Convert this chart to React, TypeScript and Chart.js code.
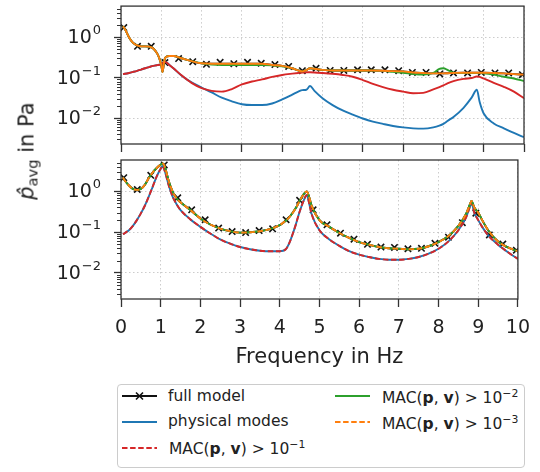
import React, { useEffect, useRef } from "react";
import { Chart, registerables } from "chart.js";

Chart.register(...registerables);

const FONT = "'DejaVu Sans', sans-serif";

// ---------- data: upper panel ----------
const freqTop = [0.05, 0.1, 0.2, 0.3, 0.4, 0.5, 0.6, 0.7, 0.8, 0.9, 0.95, 1.0, 1.03, 1.07, 1.1, 1.2, 1.3, 1.5, 1.75, 2.0, 2.25, 2.5, 2.75, 3.0, 3.25, 3.5, 3.75, 4.0, 4.25, 4.4, 4.5, 4.6, 4.69, 4.8, 5.0, 5.25, 5.5, 5.75, 6.0, 6.25, 6.5, 6.75, 7.0, 7.25, 7.5, 7.75, 7.9, 8.0, 8.1, 8.25, 8.5, 8.7, 8.83, 8.9, 9.0, 9.25, 9.5, 9.75, 10.0];
const fullTop = [1.85, 1.56, 0.98, 0.72, 0.62, 0.59, 0.59, 0.58, 0.52, 0.39, 0.30, 0.205, 0.137, 0.246, 0.31, 0.34, 0.34, 0.30, 0.255, 0.225, 0.22, 0.22, 0.22, 0.22, 0.22, 0.22, 0.205, 0.194, 0.17, 0.15, 0.142, 0.153, 0.17, 0.165, 0.155, 0.15, 0.15, 0.15, 0.15, 0.15, 0.148, 0.144, 0.142, 0.134, 0.13, 0.127, 0.127, 0.127, 0.128, 0.13, 0.132, 0.132, 0.132, 0.132, 0.132, 0.13, 0.127, 0.122, 0.118];
const physTop = [0.122, 0.124, 0.13, 0.138, 0.147, 0.158, 0.17, 0.182, 0.194, 0.203, 0.207, 0.212, 0.225, 0.246, 0.245, 0.205, 0.17, 0.113, 0.076, 0.057, 0.043, 0.032, 0.026, 0.022, 0.021, 0.021, 0.023, 0.029, 0.038, 0.045, 0.049, 0.05, 0.062, 0.047, 0.031, 0.021, 0.0155, 0.0122, 0.0098, 0.0082, 0.0072, 0.0064, 0.0059, 0.0056, 0.0055, 0.0059, 0.0065, 0.0072, 0.0085, 0.0107, 0.018, 0.032, 0.05, 0.025, 0.013, 0.0074, 0.0056, 0.0043, 0.0034];
const mac1Top = [0.122, 0.124, 0.13, 0.138, 0.147, 0.158, 0.17, 0.182, 0.194, 0.203, 0.207, 0.212, 0.225, 0.246, 0.245, 0.205, 0.17, 0.114, 0.074, 0.055, 0.047, 0.045, 0.052, 0.068, 0.08, 0.09, 0.104, 0.116, 0.125, 0.13, 0.133, 0.135, 0.135, 0.134, 0.13, 0.124, 0.116, 0.105, 0.087, 0.07, 0.058, 0.05, 0.045, 0.041, 0.042, 0.051, 0.058, 0.064, 0.072, 0.082, 0.093, 0.098, 0.106, 0.104, 0.095, 0.074, 0.059, 0.045, 0.031];
const mac2Top = [1.85, 1.56, 0.98, 0.72, 0.62, 0.59, 0.59, 0.58, 0.52, 0.39, 0.30, 0.205, 0.137, 0.246, 0.31, 0.34, 0.34, 0.30, 0.255, 0.225, 0.21, 0.205, 0.205, 0.205, 0.205, 0.205, 0.2, 0.19, 0.17, 0.15, 0.142, 0.153, 0.17, 0.165, 0.155, 0.15, 0.15, 0.15, 0.15, 0.15, 0.146, 0.138, 0.132, 0.122, 0.118, 0.13, 0.165, 0.17, 0.155, 0.132, 0.13, 0.13, 0.13, 0.13, 0.128, 0.118, 0.105, 0.095, 0.082];
const mac3Top = [1.85, 1.56, 0.98, 0.72, 0.62, 0.59, 0.59, 0.58, 0.52, 0.39, 0.30, 0.205, 0.137, 0.246, 0.31, 0.34, 0.34, 0.30, 0.255, 0.225, 0.22, 0.22, 0.22, 0.22, 0.22, 0.22, 0.205, 0.194, 0.17, 0.15, 0.142, 0.153, 0.17, 0.165, 0.155, 0.15, 0.15, 0.15, 0.15, 0.15, 0.148, 0.144, 0.142, 0.134, 0.13, 0.127, 0.127, 0.127, 0.128, 0.13, 0.132, 0.132, 0.132, 0.132, 0.132, 0.13, 0.127, 0.122, 0.118];
const markFreq = [0.07, 0.41, 0.75, 1.09, 1.43, 1.78, 2.12, 2.46, 2.80, 3.14, 3.48, 3.82, 4.16, 4.50, 4.84, 5.19, 5.53, 5.87, 6.21, 6.55, 6.89, 7.23, 7.57, 7.91, 8.25, 8.60, 8.94, 9.28, 9.62, 9.96];
const markTop = [1.71, 0.59, 0.59, 0.235, 0.295, 0.247, 0.213, 0.238, 0.22, 0.238, 0.225, 0.21, 0.188, 0.148, 0.17, 0.15, 0.15, 0.156, 0.156, 0.156, 0.148, 0.134, 0.134, 0.123, 0.13, 0.13, 0.134, 0.13, 0.13, 0.118];

// ---------- data: lower panel ----------
const freqBot = [0.05, 0.1, 0.2, 0.3, 0.4, 0.5, 0.6, 0.7, 0.8, 0.9, 1.0, 1.05, 1.1, 1.2, 1.3, 1.4, 1.5, 1.75, 2.0, 2.25, 2.5, 2.75, 3.0, 3.25, 3.5, 3.75, 4.0, 4.15, 4.25, 4.4, 4.5, 4.6, 4.68, 4.75, 4.8, 5.0, 5.25, 5.5, 5.75, 6.0, 6.25, 6.5, 6.75, 7.0, 7.25, 7.5, 7.75, 8.0, 8.25, 8.5, 8.7, 8.8, 8.83, 8.9, 9.0, 9.1, 9.25, 9.5, 9.75, 10.0];
const fullBot = [2.15, 1.8, 1.38, 1.14, 1.08, 1.14, 1.43, 2.09, 2.9, 3.7, 4.47, 4.75, 4.06, 1.8, 0.98, 0.67, 0.535, 0.345, 0.215, 0.153, 0.122, 0.105, 0.097, 0.099, 0.105, 0.118, 0.148, 0.19, 0.237, 0.38, 0.58, 0.84, 0.98, 0.67, 0.45, 0.196, 0.134, 0.095, 0.072, 0.057, 0.049, 0.043, 0.04, 0.039, 0.038, 0.039, 0.045, 0.057, 0.08, 0.142, 0.286, 0.5, 0.58, 0.4, 0.3, 0.196, 0.111, 0.059, 0.042, 0.034];
const physBot = [0.088, 0.095, 0.111, 0.142, 0.196, 0.286, 0.44, 0.74, 1.3, 2.3, 3.56, 4.1, 3.17, 1.43, 0.74, 0.48, 0.345, 0.204, 0.134, 0.092, 0.066, 0.052, 0.043, 0.038, 0.035, 0.034, 0.034, 0.038, 0.057, 0.148, 0.315, 0.58, 0.81, 0.46, 0.28, 0.111, 0.066, 0.046, 0.034, 0.028, 0.0245, 0.022, 0.021, 0.021, 0.022, 0.0245, 0.0295, 0.039, 0.059, 0.111, 0.237, 0.44, 0.52, 0.3, 0.196, 0.134, 0.083, 0.049, 0.032, 0.022];
const mac1Bot = [0.088, 0.095, 0.111, 0.142, 0.196, 0.286, 0.44, 0.74, 1.3, 2.3, 3.56, 4.1, 3.17, 1.43, 0.74, 0.48, 0.345, 0.204, 0.134, 0.092, 0.066, 0.052, 0.043, 0.038, 0.035, 0.034, 0.034, 0.038, 0.057, 0.148, 0.315, 0.58, 0.81, 0.46, 0.28, 0.111, 0.066, 0.046, 0.034, 0.028, 0.0245, 0.022, 0.021, 0.021, 0.022, 0.0245, 0.0295, 0.039, 0.059, 0.111, 0.237, 0.44, 0.52, 0.3, 0.196, 0.134, 0.083, 0.049, 0.032, 0.022];
const mac2Bot = [2.15, 1.8, 1.38, 1.14, 1.08, 1.14, 1.43, 2.09, 2.9, 3.7, 4.47, 4.75, 4.06, 1.8, 0.98, 0.67, 0.535, 0.345, 0.215, 0.153, 0.122, 0.105, 0.097, 0.099, 0.105, 0.118, 0.148, 0.19, 0.237, 0.38, 0.58, 0.84, 0.98, 0.67, 0.45, 0.196, 0.134, 0.095, 0.072, 0.057, 0.049, 0.043, 0.04, 0.039, 0.038, 0.039, 0.045, 0.057, 0.08, 0.142, 0.286, 0.5, 0.58, 0.4, 0.3, 0.196, 0.111, 0.059, 0.042, 0.034];
const mac3Bot = [2.15, 1.8, 1.38, 1.14, 1.08, 1.14, 1.43, 2.09, 2.9, 3.7, 4.47, 4.75, 4.06, 1.8, 0.98, 0.67, 0.535, 0.345, 0.215, 0.153, 0.122, 0.105, 0.097, 0.099, 0.105, 0.118, 0.148, 0.19, 0.237, 0.38, 0.58, 0.84, 0.98, 0.67, 0.45, 0.196, 0.134, 0.095, 0.072, 0.057, 0.049, 0.043, 0.04, 0.039, 0.038, 0.039, 0.045, 0.057, 0.08, 0.142, 0.286, 0.5, 0.58, 0.4, 0.3, 0.196, 0.111, 0.059, 0.042, 0.034];
const markBot = [2.14, 1.1, 2.44, 4.4, 0.69, 0.35, 0.2, 0.125, 0.103, 0.097, 0.109, 0.12, 0.2, 0.6, 0.35, 0.15, 0.094, 0.067, 0.05, 0.043, 0.042, 0.039, 0.04, 0.053, 0.075, 0.17, 0.29, 0.085, 0.051, 0.036];

// ---------- axes / labels ----------
const xMin = 0;
const xMax = 10;
const yMin = 0.0023;
const yMax = 5.8;
const yTickValues = [1, 0.1, 0.01];
const yTickExps = ["0", "\u22121", "\u22122"];
const xTitle = "Frequency in Hz";
const seriesNames = ["full model", "physical modes", "MAC", "MAC", "MAC"];
const macExps = ["\u22121", "\u22122", "\u22123"];

const C_BLUE = "#1f77b4";
const C_ORANGE = "#ff7f0e";
const C_GREEN = "#2ca02c";
const C_RED = "#d62728";
const C_BLACK = "#111111";
const AX = "#333333";

const pts = (xs: number[], ys: number[]) => xs.map((x, i) => ({ x, y: ys[i] }));

const lineDs = (xs: number[], ys: number[], color: string, dash: number[] = []) => ({
  data: pts(xs, ys),
  borderColor: color,
  backgroundColor: color,
  borderWidth: 1.9,
  borderDash: dash,
  pointRadius: 0,
  fill: false,
  cubicInterpolationMode: "monotone" as const,
});

const markDs = (xs: number[], ys: number[]) => ({
  data: pts(xs, ys),
  showLine: false,
  pointStyle: "crossRot" as const,
  pointRadius: 4.5,
  pointBorderWidth: 1.6,
  pointBorderColor: C_BLACK,
  borderColor: C_BLACK,
  backgroundColor: C_BLACK,
});

const framePlugin = {
  id: "frame",
  afterDraw(chart: any) {
    const { ctx, chartArea: a } = chart;
    const ys = chart.scales.y;
    ctx.save();
    // minor log ticks
    ctx.strokeStyle = AX;
    ctx.lineWidth = 1;
    for (let e = -3; e <= 0; e++) {
      for (let m = 2; m <= 9; m++) {
        const v = m * Math.pow(10, e);
        if (v < ys.min || v > ys.max) continue;
        const py = Math.round(ys.getPixelForValue(v)) + 0.5;
        ctx.beginPath();
        ctx.moveTo(a.left - 4, py);
        ctx.lineTo(a.left, py);
        ctx.stroke();
      }
    }
    // major tick labels 10^n
    ctx.fillStyle = "#222";
    ctx.textBaseline = "alphabetic";
    ctx.textAlign = "left";
    const xEnd = a.left - 21;
    yTickValues.forEach((v, i) => {
      const py = ys.getPixelForValue(v);
      ctx.font = `13px ${FONT}`;
      const ws = ctx.measureText(yTickExps[i]).width;
      ctx.font = `19px ${FONT}`;
      const wb = ctx.measureText("10").width;
      const x0 = xEnd - ws - wb;
      ctx.fillText("10", x0, py + 6);
      ctx.font = `13px ${FONT}`;
      ctx.fillText(yTickExps[i], x0 + wb + 1, py - 3);
    });
    // frame
    ctx.strokeStyle = AX;
    ctx.lineWidth = 1.3;
    ctx.strokeRect(a.left, a.top, a.right - a.left, a.bottom - a.top);
    ctx.restore();
  },
};

function makeOptions(showX: boolean, xHeight: number, padTop: number) {
  return {
    responsive: false,
    maintainAspectRatio: false,
    animation: false as const,
    events: [] as any[],
    layout: { padding: { left: 0, right: 16, top: padTop, bottom: 0 } },
    plugins: { legend: { display: false }, tooltip: { enabled: false } },
    scales: {
      x: {
        type: "linear" as const,
        min: xMin,
        max: xMax,
        afterFit: (s: any) => {
          s.height = xHeight;
        },
        ticks: {
          stepSize: 1,
          display: showX,
          autoSkip: false,
          maxRotation: 0,
          padding: 10,
          color: "#222",
          font: { family: FONT, size: 19 },
        },
        grid: {
          color: "rgba(170,170,170,0.75)",
          lineWidth: 0.8,
          tickColor: AX,
          tickLength: 8,
          tickWidth: 1.3,
        },
        border: { display: false, dash: [1.5, 2.5] },
        title: {
          display: showX,
          text: xTitle,
          color: "#222",
          font: { family: FONT, size: 21 },
          padding: { top: 0, bottom: 2 },
        },
      },
      y: {
        type: "logarithmic" as const,
        min: yMin,
        max: yMax,
        afterFit: (s: any) => {
          s.width = 121;
        },
        afterBuildTicks: (s: any) => {
          s.ticks = yTickValues.map((v) => ({ value: v, major: true }));
        },
        ticks: { display: false },
        grid: {
          color: "rgba(170,170,170,0.75)",
          lineWidth: 0.8,
          tickColor: AX,
          tickLength: 7,
          tickWidth: 1.3,
        },
        border: { display: false, dash: [1.5, 2.5] },
      },
    },
  };
}

function Panel(props: { datasets: any[]; showX: boolean; height: number; xHeight: number; padTop: number; top: number }) {
  const ref = useRef<HTMLCanvasElement | null>(null);
  useEffect(() => {
    if (!ref.current) return;
    const chart = new Chart(ref.current, {
      type: "line",
      data: { datasets: props.datasets },
      options: makeOptions(props.showX, props.xHeight, props.padTop) as any,
      plugins: [framePlugin],
    });
    return () => chart.destroy();
  }, []);
  return (
    <canvas
      ref={ref}
      width={540}
      height={props.height}
      style={{ position: "absolute", left: 0, top: props.top, width: 540, height: props.height, display: "block" }}
    />
  );
}

function Sample(props: { x: number; y: number; color: string; dash?: string; marker?: boolean }) {
  return (
    <svg width={35} height={12} style={{ position: "absolute", left: props.x, top: props.y - 6 }}>
      <line x1={0} y1={6} x2={35} y2={6} stroke={props.color} strokeWidth={1.9} strokeDasharray={props.dash} />
      {props.marker ? <path d="M14 2.5 L21 9.5 M21 2.5 L14 9.5" stroke={C_BLACK} strokeWidth={1.6} fill="none" /> : null}
    </svg>
  );
}

function MacText(props: { exp: string }) {
  return (
    <span>
      {seriesNames[2]}(<b>p</b>, <b>v</b>) &gt; 10
      <span style={{ fontSize: "0.7em", position: "relative", top: "-0.55em" }}>{props.exp}</span>
    </span>
  );
}

function Label(props: { x: number; y: number; children: any }) {
  return (
    <div
      style={{
        position: "absolute",
        left: props.x,
        top: props.y,
        transform: "translateY(-50%)",
        whiteSpace: "nowrap",
        lineHeight: 1,
        fontSize: 15.5,
        color: "#222",
      }}
    >
      {props.children}
    </div>
  );
}

export default function App() {
  const topSets = [
    lineDs(freqTop, mac3Top, C_ORANGE),
    lineDs(freqTop, mac2Top, C_GREEN),
    lineDs(freqTop, mac1Top, C_RED),
    lineDs(freqTop, physTop, C_BLUE),
    markDs(markFreq, markTop),
    lineDs(freqTop, fullTop, C_BLACK),
  ];
  const botSets = [
    lineDs(freqBot, mac3Bot, C_ORANGE, [5.5, 2.6]),
    lineDs(freqBot, mac2Bot, C_GREEN),
    lineDs(freqBot, mac1Bot, C_RED, [5.5, 2.6]),
    lineDs(freqBot, physBot, C_BLUE),
    markDs(markFreq, markBot),
    lineDs(freqBot, fullBot, C_BLACK),
  ];
  return (
    <div
      style={{
        position: "fixed",
        left: 0,
        top: 0,
        width: 540,
        height: 472,
        background: "#fff",
        fontFamily: FONT,
        overflow: "hidden",
      }}
    >
      <Panel datasets={topSets} showX={false} height={160} xHeight={16} padTop={3} top={0} />
      <Panel datasets={botSets} showX={true} height={222} xHeight={73} padTop={10} top={150} />
      <div
        style={{
          position: "absolute",
          left: 27,
          top: 151,
          transform: "translate(-50%, -50%) rotate(-90deg)",
          whiteSpace: "nowrap",
          fontSize: 21,
          color: "#222",
          lineHeight: 1,
        }}
      >
        <span style={{ fontStyle: "italic" }}>p&#x302;</span>
        <span style={{ fontSize: "0.7em", position: "relative", top: "0.3em" }}>avg</span> in Pa
      </div>
      <div
        style={{
          position: "absolute",
          left: 117,
          top: 384,
          width: 406,
          height: 82,
          border: "1.3px solid #cccccc",
          borderRadius: 4,
          background: "#fff",
        }}
      />
      <Sample x={122} y={396} color={C_BLACK} marker />
      <Label x={168} y={397}>{seriesNames[0]}</Label>
      <Sample x={122} y={421.5} color={C_BLUE} />
      <Label x={168} y={422}>{seriesNames[1]}</Label>
      <Sample x={122} y={448} color={C_RED} dash="5.5 2.6" />
      <Label x={169} y={450}>
        <MacText exp={macExps[0]} />
      </Label>
      <Sample x={335} y={396} color={C_GREEN} />
      <Label x={382} y={399}>
        <MacText exp={macExps[1]} />
      </Label>
      <Sample x={335} y={422} color={C_ORANGE} dash="5.5 2.6" />
      <Label x={382} y={425}>
        <MacText exp={macExps[2]} />
      </Label>
    </div>
  );
}
